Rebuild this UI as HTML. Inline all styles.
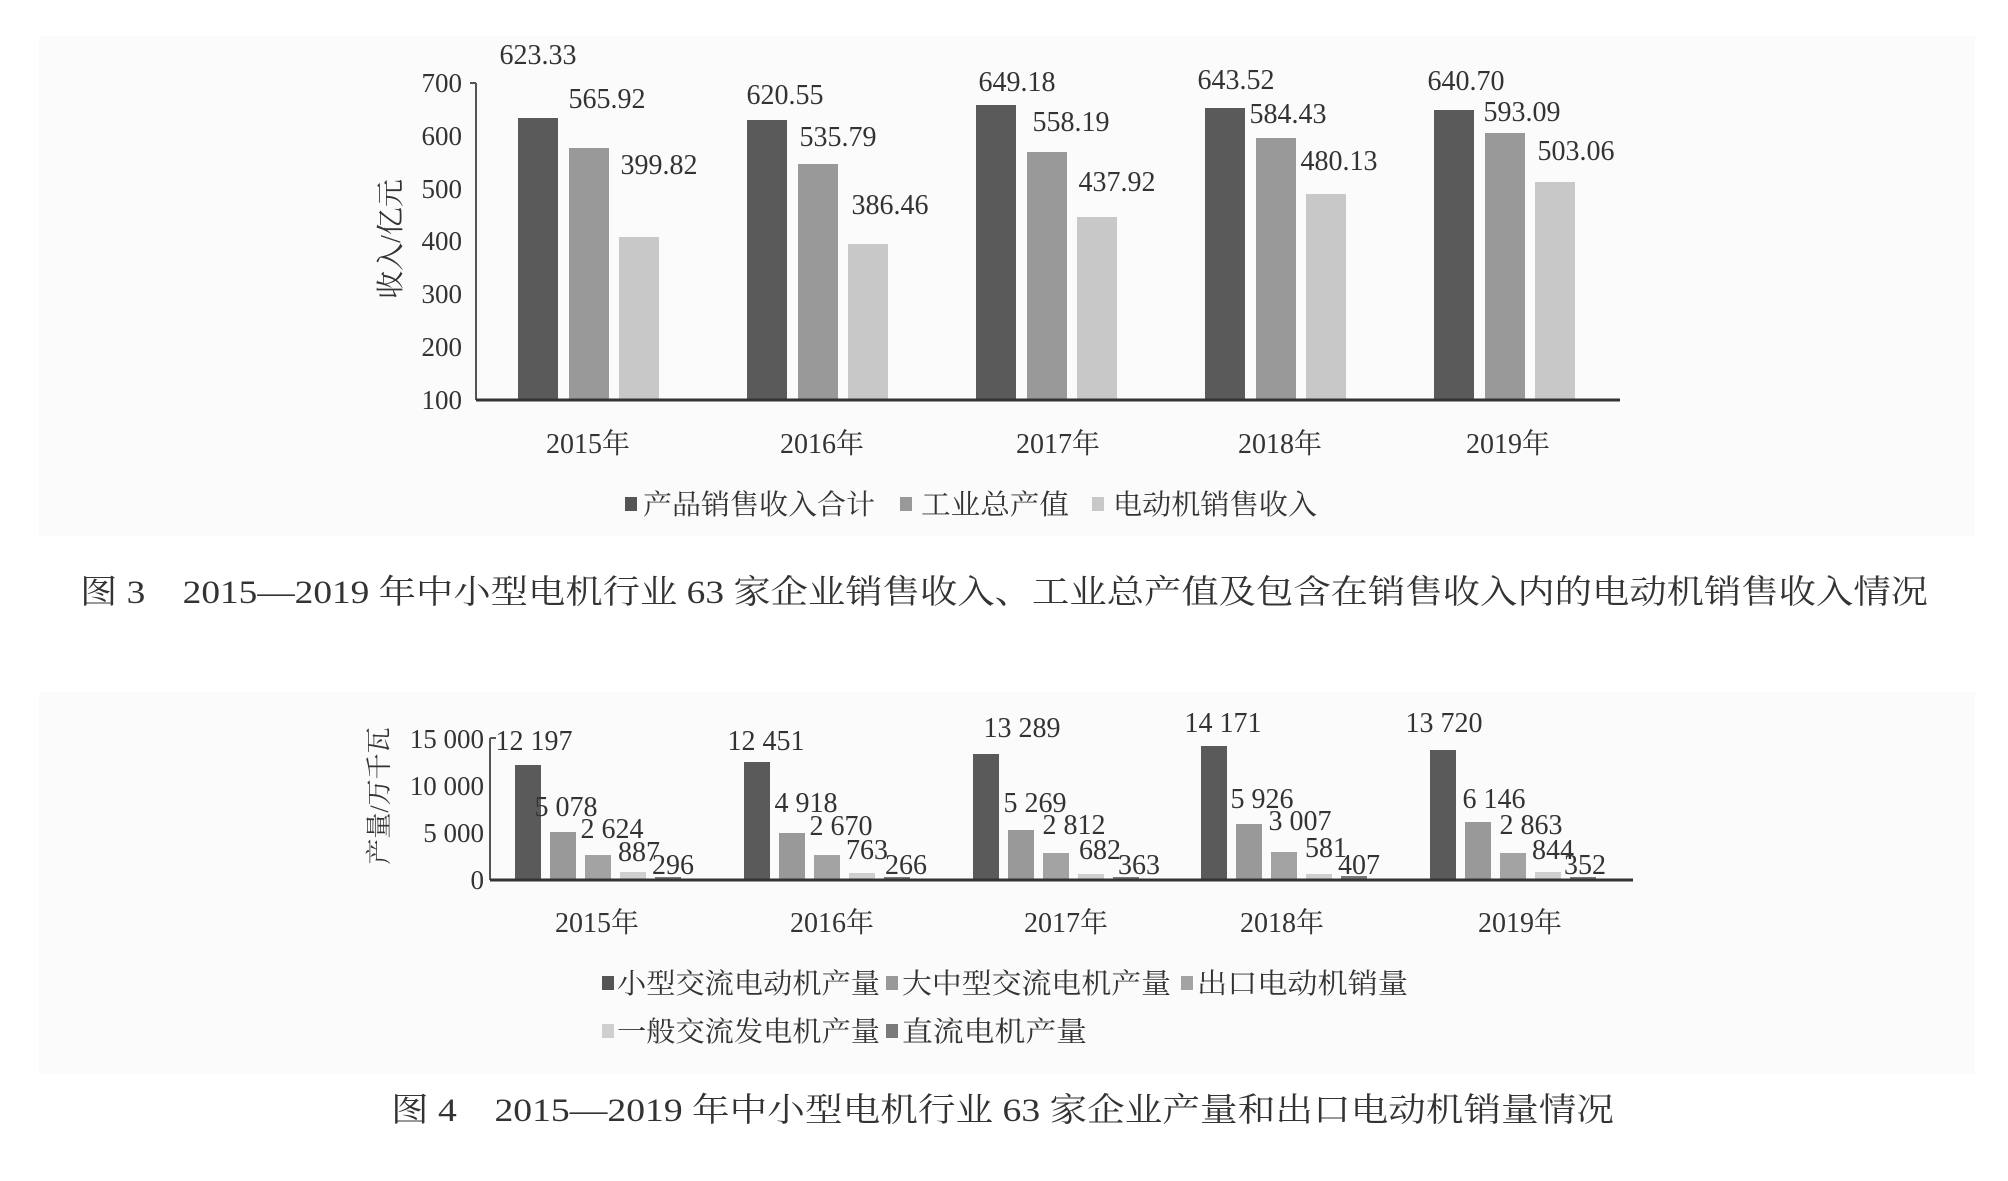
<!DOCTYPE html>
<html><head><meta charset="utf-8"><style>
body{margin:0;background:#fff}
svg{display:block}
text{font-family:"Liberation Serif","Noto Serif CJK SC",serif;fill:#333}
</style></head><body>
<svg width="2008" height="1181" viewBox="0 0 2008 1181" xmlns="http://www.w3.org/2000/svg">
<rect x="0" y="0" width="2008" height="1181" fill="#fff"/>
<rect x="39" y="36" width="1936" height="500" fill="#fbfbfb"/>
<rect x="39" y="692" width="1936" height="382" fill="#fbfbfb"/>

<!-- Chart 1 -->
<g font-size="27" text-anchor="end">
<text x="462" y="92">700</text><text x="462" y="145">600</text><text x="462" y="198">500</text>
<text x="462" y="250">400</text><text x="462" y="303">300</text><text x="462" y="356">200</text><text x="462" y="409">100</text>
</g>
<text transform="translate(400,239) rotate(-90)" font-size="28" text-anchor="middle" fill="#666">收入/亿元</text>
<g fill="#5a5a5a">
<rect x="518" y="118" width="40" height="282"/><rect x="747" y="120" width="40" height="280"/>
<rect x="976" y="105" width="40" height="295"/><rect x="1205" y="108" width="40" height="292"/><rect x="1434" y="110" width="40" height="290"/>
</g>
<g fill="#999">
<rect x="569" y="148" width="40" height="252"/><rect x="798" y="164" width="40" height="236"/>
<rect x="1027" y="152" width="40" height="248"/><rect x="1256" y="138" width="40" height="262"/><rect x="1485" y="133" width="40" height="267"/>
</g>
<g fill="#c8c8c8">
<rect x="619" y="237" width="40" height="163"/><rect x="848" y="244" width="40" height="156"/>
<rect x="1077" y="217" width="40" height="183"/><rect x="1306" y="194" width="40" height="206"/><rect x="1535" y="182" width="40" height="218"/>
</g>
<line x1="476" y1="83" x2="476" y2="400" stroke="#555" stroke-width="2"/>
<line x1="470" y1="83" x2="476" y2="83" stroke="#555" stroke-width="2"/>
<line x1="476" y1="400" x2="1620" y2="400" stroke="#333" stroke-width="3"/>
<g font-size="28" text-anchor="middle">
<text x="538" y="64">623.33</text><text x="607" y="108">565.92</text><text x="659" y="174">399.82</text>
<text x="785" y="104">620.55</text><text x="838" y="146">535.79</text><text x="890" y="214">386.46</text>
<text x="1017" y="91">649.18</text><text x="1071" y="131">558.19</text><text x="1117" y="191">437.92</text>
<text x="1236" y="89">643.52</text><text x="1288" y="123">584.43</text><text x="1339" y="170">480.13</text>
<text x="1466" y="90">640.70</text><text x="1522" y="121">593.09</text><text x="1576" y="160">503.06</text>
</g>
<g font-size="28" text-anchor="middle">
<text x="588" y="453">2015年</text><text x="822" y="453">2016年</text><text x="1058" y="453">2017年</text>
<text x="1280" y="453">2018年</text><text x="1508" y="453">2019年</text>
</g>
<rect x="625" y="497" width="12" height="14" fill="#555"/>
<text x="643" y="514" font-size="28" textLength="232" lengthAdjust="spacingAndGlyphs">产品销售收入合计</text>
<rect x="900" y="497" width="12" height="14" fill="#999"/>
<text x="921" y="514" font-size="28" textLength="148" lengthAdjust="spacingAndGlyphs">工业总产值</text>
<rect x="1092" y="497" width="12" height="14" fill="#c8c8c8"/>
<text x="1113" y="514" font-size="28" textLength="204" lengthAdjust="spacingAndGlyphs">电动机销售收入</text>

<text x="80" y="603" font-size="33" fill="#000" textLength="1848" lengthAdjust="spacingAndGlyphs">图 3　2015—2019 年中小型电机行业 63 家企业销售收入、工业总产值及包含在销售收入内的电动机销售收入情况</text>

<!-- Chart 2 -->
<g font-size="27" text-anchor="end">
<text x="484" y="748">15 000</text><text x="484" y="795">10 000</text><text x="484" y="842">5 000</text><text x="484" y="889">0</text>
</g>
<text transform="translate(388,796) rotate(-90)" font-size="26" text-anchor="middle" fill="#666">产量/万千瓦</text>
<g>
<rect x="515" y="765" width="26" height="115" fill="#5a5a5a"/><rect x="550" y="832" width="26" height="48" fill="#999"/><rect x="585" y="855" width="26" height="25" fill="#a3a3a3"/><rect x="620" y="872" width="26" height="8" fill="#cfcfcf"/><rect x="655" y="877" width="26" height="3" fill="#7a7a7a"/>
<rect x="744" y="762" width="26" height="118" fill="#5a5a5a"/><rect x="779" y="833" width="26" height="47" fill="#999"/><rect x="814" y="855" width="26" height="25" fill="#a3a3a3"/><rect x="849" y="873" width="26" height="7" fill="#cfcfcf"/><rect x="884" y="877" width="26" height="3" fill="#7a7a7a"/>
<rect x="973" y="754" width="26" height="126" fill="#5a5a5a"/><rect x="1008" y="830" width="26" height="50" fill="#999"/><rect x="1043" y="853" width="26" height="27" fill="#a3a3a3"/><rect x="1078" y="874" width="26" height="6" fill="#cfcfcf"/><rect x="1113" y="877" width="26" height="3" fill="#7a7a7a"/>
<rect x="1201" y="746" width="26" height="134" fill="#5a5a5a"/><rect x="1236" y="824" width="26" height="56" fill="#999"/><rect x="1271" y="852" width="26" height="28" fill="#a3a3a3"/><rect x="1306" y="874" width="26" height="6" fill="#cfcfcf"/><rect x="1341" y="876" width="26" height="4" fill="#7a7a7a"/>
<rect x="1430" y="750" width="26" height="130" fill="#5a5a5a"/><rect x="1465" y="822" width="26" height="58" fill="#999"/><rect x="1500" y="853" width="26" height="27" fill="#a3a3a3"/><rect x="1535" y="872" width="26" height="8" fill="#cfcfcf"/><rect x="1570" y="877" width="26" height="3" fill="#7a7a7a"/>
</g>
<line x1="490" y1="738" x2="490" y2="880" stroke="#555" stroke-width="2"/>
<line x1="490" y1="738" x2="496" y2="738" stroke="#555" stroke-width="2"/>
<line x1="490" y1="880" x2="1633" y2="880" stroke="#333" stroke-width="3"/>
<g font-size="28" text-anchor="middle">
<text x="534" y="750">12 197</text><text x="566" y="816">5 078</text><text x="612" y="838">2 624</text><text x="639" y="861">887</text><text x="673" y="874">296</text>
<text x="766" y="750">12 451</text><text x="806" y="812">4 918</text><text x="841" y="835">2 670</text><text x="867" y="859">763</text><text x="906" y="874">266</text>
<text x="1022" y="737">13 289</text><text x="1035" y="812">5 269</text><text x="1074" y="834">2 812</text><text x="1100" y="859">682</text><text x="1139" y="874">363</text>
<text x="1223" y="732">14 171</text><text x="1262" y="808">5 926</text><text x="1300" y="830">3 007</text><text x="1326" y="857">581</text><text x="1359" y="874">407</text>
<text x="1444" y="732">13 720</text><text x="1494" y="808">6 146</text><text x="1531" y="834">2 863</text><text x="1553" y="859">844</text><text x="1585" y="874">352</text>
</g>
<g font-size="28" text-anchor="middle">
<text x="597" y="932">2015年</text><text x="832" y="932">2016年</text><text x="1066" y="932">2017年</text>
<text x="1282" y="932">2018年</text><text x="1520" y="932">2019年</text>
</g>
<rect x="602" y="976" width="12" height="14" fill="#555"/>
<text x="617" y="993" font-size="28" textLength="263" lengthAdjust="spacingAndGlyphs">小型交流电动机产量</text>
<rect x="886" y="976" width="12" height="14" fill="#999"/>
<text x="902" y="993" font-size="28" textLength="269" lengthAdjust="spacingAndGlyphs">大中型交流电机产量</text>
<rect x="1181" y="976" width="12" height="14" fill="#a3a3a3"/>
<text x="1197" y="993" font-size="28" textLength="211" lengthAdjust="spacingAndGlyphs">出口电动机销量</text>
<rect x="602" y="1024" width="12" height="14" fill="#cfcfcf"/>
<text x="617" y="1041" font-size="28" textLength="263" lengthAdjust="spacingAndGlyphs">一般交流发电机产量</text>
<rect x="886" y="1024" width="12" height="14" fill="#7a7a7a"/>
<text x="902" y="1041" font-size="28" textLength="185" lengthAdjust="spacingAndGlyphs">直流电机产量</text>

<text x="391" y="1121" font-size="33" fill="#000" textLength="1223" lengthAdjust="spacingAndGlyphs">图 4　2015—2019 年中小型电机行业 63 家企业产量和出口电动机销量情况</text>
</svg>
</body></html>
